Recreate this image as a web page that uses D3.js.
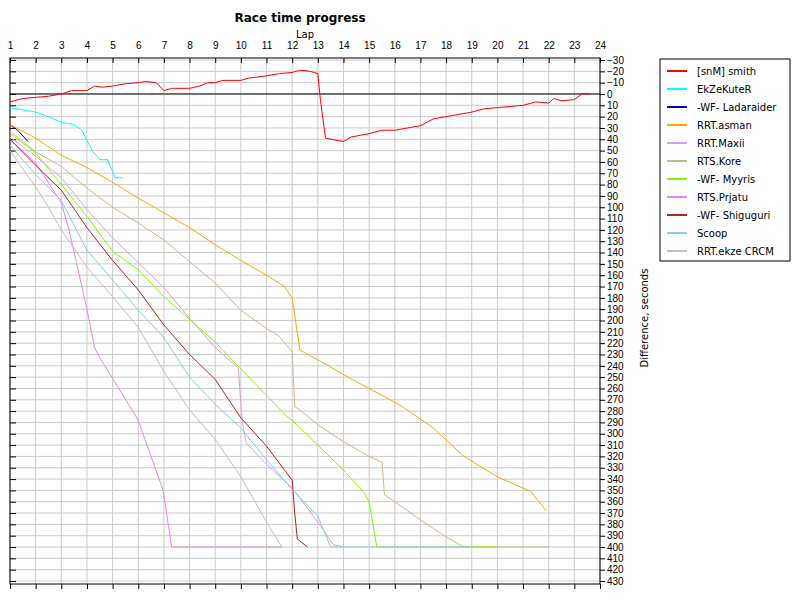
<!DOCTYPE html>
<html><head><meta charset="utf-8">
<script src="https://cdn.jsdelivr.net/npm/d3@7"></script>
<style>body{margin:0;background:#fff;font-family:"DejaVu Sans",sans-serif}</style>
</head><body><svg id="c" width="800" height="600"></svg>
<script>
// lap numbers and values, [lap, seconds behind]
var laps = d3.range(1, 25);
var yTicks = d3.range(-30, 431, 10);
var names = ["[snM] smith","EkZeKuteR","-WF- Ladaraider","RRT.asman","RRT.Maxii","RTS.Kore","-WF-  Myyris","RTS.Prjatu","-WF- Shiguguri","Scoop","RRT.ekze CRCM"];
var colors = ["#ff0000","#00ffff","#0000cd","#ffa500","#dda0dd","#d2b48c","#7cfc00","#ee82ee","#b22222","#87ceeb","#c0c0c0"];

var smith = [[1,7],[1.5,4],[2,3],[2.5,2],[3,0],[3.4,-3],[4,-3],[4.3,-7],[4.6,-6],[5,-7],[5.5,-9],[6,-10],[6.3,-11],[6.7,-10],[7,-3],[7.3,-5],[8,-5],[8.4,-7],[8.7,-10],[9,-10],[9.3,-12],[10,-12],[10.3,-14],[11,-16],[11.5,-18],[12,-19],[12.3,-21],[12.7,-20],[13,-18],[13.1,5],[13.3,39],[14,42],[14.3,38],[15,35],[15.5,32],[16,32],[17,28],[17.5,22],[18,20],[18.5,18],[19,16],[19.5,13],[20,12],[21,10],[21.5,7],[22,8],[22.2,4],[22.5,6],[23,5],[23.3,0],[23.6,0]];
var ekzekuter = [[1,12],[1.5,14],[2,16],[2.5,20],[3,25],[3.5,27],[3.8,32],[4.2,50],[4.5,58],[4.8,58],[5.1,74],[5.4,74]];
var ladaraider = [[1,27],[1.3,32],[1.7,42]];
var asman = [[1,27],[2,39],[3,54],[4,65],[5,78],[6,92],[7,105],[8,118],[9,133],[10,147],[11,160],[11.7,170],[12,180],[12.3,226],[13.5,241],[14.25,251],[15,260],[16.3,276],[17.5,295],[18.7,320],[20,338],[21.3,351],[21.9,368]];
var maxii = [[1,38],[2,55],[3,74],[4,102],[5,127],[6,149],[7,171],[8,198],[9,224],[9.9,242],[10.05,288],[10.2,308],[11,327],[12,348],[13,378],[13.6,398],[14,400]];
var kore = [[1,33],[2,51],[3,64],[4,83],[5,100],[6,114],[7,129],[8,148],[9,167],[10,191],[11,207],[11.5,214],[12,228],[12.1,276],[12.3,279],[13,292],[14,307],[15,320],[15.5,325],[15.6,354],[16,360],[17,376],[18,391],[18.7,400],[22,400]];
var myyris = [[1,35],[2,52],[3,80],[4,108],[5,139],[6,155],[7,179],[8,199],[9,219],[10,243],[11,266],[11.8,285],[12,288],[13,310],[14,332],[14.8,352],[15,360],[15.3,400],[20,400]];
var prjatu = [[1,40],[2,61],[3,96],[3.3,120],[4,190],[4.3,224],[4.5,233],[5,251],[6,288],[6.45,317],[6.97,350],[7.3,400],[11.6,400]];
var shiguguri = [[1,40],[2,63],[3,85],[4,118],[5,147],[6,173],[7,204],[8,230],[9,252],[10,286],[11,311],[11.5,326],[12,341],[12.1,370],[12.2,393],[12.6,400]];
var scoop = [[1,45],[2,71],[3,94],[4,138],[5,164],[6,191],[7,215],[8,250],[9,274],[10,295],[11,323],[12,349],[13,373],[13.5,400],[19,400]];
var ekze = [[1,50],[2,82],[2.5,100],[3,120],[4,153],[5,179],[6,206],[7,245],[8,279],[9,305],[10,338],[11,378],[11.6,400]];
var series = [smith, ekzekuter, ladaraider, asman, maxii, kore, myyris, prjatu, shiguguri, scoop, ekze];

var svg = d3.select("#c");
var x = d3.scaleLinear().domain([1, 24]).range([10, 600]);
var y = d3.scaleLinear().domain([-30, 430]).range([60, 581]);
var plotTop = 58, plotBottom = 584;

// grid
svg.append("g").selectAll("line").data(laps).join("line")
  .attr("x1", d => x(d)).attr("x2", d => x(d)).attr("y1", plotTop).attr("y2", plotBottom)
  .attr("stroke", "#cccccc");
svg.append("g").selectAll("line").data(yTicks).join("line")
  .attr("x1", 10).attr("x2", 600).attr("y1", d => y(d)).attr("y2", d => y(d))
  .attr("stroke", "#cccccc");

// zero line
svg.append("line").attr("x1", 10).attr("x2", 600).attr("y1", y(0)).attr("y2", y(0)).attr("stroke", "#000");

// axes
var ax = svg.append("g").style("font-family", "DejaVu Sans").style("font-size", "10px");
ax.append("g").attr("transform", "translate(0," + plotTop + ")")
  .call(d3.axisTop(x).tickValues(laps).tickFormat(d3.format("d")).tickSizeInner(-5).tickSizeOuter(0).tickPadding(9));
ax.append("g").attr("transform", "translate(0," + plotBottom + ")")
  .call(d3.axisBottom(x).tickValues(laps).tickFormat("").tickSizeOuter(0).tickSize(5));
ax.append("g").attr("transform", "translate(600,0)")
  .call(d3.axisRight(y).tickValues(yTicks).tickFormat(d3.format("d")).tickSize(5).tickSizeOuter(0).tickPadding(2));
ax.append("g").attr("transform", "translate(10,0)")
  .call(d3.axisRight(y).tickValues(yTicks).tickFormat("").tickSize(6).tickSizeOuter(0));
ax.selectAll(".domain").remove();
ax.selectAll("text").attr("fill", "#000");
svg.append("rect").attr("x", 10).attr("y", plotTop).attr("width", 590).attr("height", plotBottom - plotTop)
  .attr("fill", "none").attr("stroke", "#000");

// lines
var line = d3.line().x(d => x(d[0])).y(d => y(d[1]));
svg.append("g").selectAll("path").data(series).join("path")
  .attr("d", line).attr("fill", "none").attr("stroke", (d, i) => colors[i]).attr("stroke-width", 1);

// titles
svg.append("text").attr("x", 300).attr("y", 22).attr("text-anchor", "middle")
  .style("font-weight", "bold").style("font-size", "12px").text("Race time progress");
svg.append("text").attr("x", 305).attr("y", 38).attr("text-anchor", "middle")
  .style("font-size", "10px").text("Lap");
svg.append("text").attr("transform", "translate(648,318) rotate(-90)").attr("text-anchor", "middle")
  .style("font-size", "10px").text("Difference, seconds");

// legend
var lg = svg.append("g");
lg.append("rect").attr("x", 660).attr("y", 59).attr("width", 130).attr("height", 202)
  .attr("fill", "#fff").attr("stroke", "#000");
var it = lg.selectAll("g").data(names).join("g")
  .attr("transform", (d, i) => "translate(667," + (71 + i * 18) + ")");
it.append("line").attr("x1", 0).attr("x2", 20).attr("stroke", (d, i) => colors[i]).attr("stroke-width", 2);
it.append("text").attr("x", 30).attr("y", 4).style("font-size", "10px").text(d => d);
</script></body></html>
